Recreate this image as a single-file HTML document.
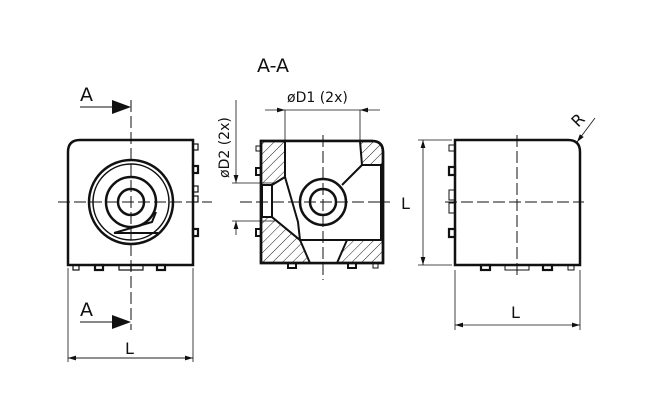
<!DOCTYPE html>
<html><head><style>body{margin:0;background:#fff}svg{display:block}text{font-family:"DejaVu Sans","Liberation Sans",sans-serif;fill:#111}</style></head>
<body>
<svg width="650" height="417" viewBox="0 0 650 417" xmlns="http://www.w3.org/2000/svg">
<defs>
<pattern id="h" width="7" height="7" patternUnits="userSpaceOnUse" patternTransform="rotate(45)"><line x1="0" y1="0" x2="0" y2="7" stroke="#222" stroke-width="1"/></pattern>
<marker id="ar" markerWidth="10" markerHeight="6" refX="10" refY="3" orient="auto"><path d="M0,0L10,3L0,6z" fill="#111"/></marker>
</defs>
<g stroke="#111" fill="none">
<!-- LEFT VIEW -->
<path d="M68,265V152Q68,140 80,140H193V265Z" stroke-width="2.5"/>
<circle cx="131" cy="202" r="42" stroke-width="2.5"/>
<circle cx="131" cy="202" r="38" stroke-width="1.5"/>
<circle cx="131" cy="202" r="25" stroke-width="2.5"/>
<circle cx="131" cy="202" r="13" stroke-width="2.5"/>
<path d="M114,233L152,222L156,212M114,233L158,233" stroke-width="2"/>
<g stroke-width="1.2"><rect x="193" y="144" width="5" height="6"/><rect x="193" y="186" width="5" height="6"/><rect x="193" y="196" width="5" height="6"/><rect x="73" y="265" width="6" height="5"/><rect x="119" y="265" width="12" height="5"/><rect x="131" y="265" width="12" height="5"/></g>
<g stroke-width="2.2"><rect x="193" y="166" width="5" height="7"/><rect x="193" y="229" width="5" height="7"/><rect x="95" y="265" width="8" height="5"/><rect x="157" y="265" width="8" height="5"/></g>
<g stroke-width="1" stroke-dasharray="12,4"><line x1="131" y1="100" x2="131" y2="330"/><line x1="58" y1="202" x2="212" y2="202"/></g>
<line x1="80" y1="107" x2="115" y2="107" stroke-width="1"/>
<path d="M112,100L131,107L112,114Z" fill="#111" stroke="none"/>
<line x1="80" y1="322" x2="115" y2="322" stroke-width="1"/>
<path d="M112,315L131,322L112,329Z" fill="#111" stroke="none"/>
<g stroke-width="0.8"><line x1="68" y1="268" x2="68" y2="362"/><line x1="193" y1="268" x2="193" y2="362"/><line x1="68" y1="358" x2="193" y2="358" marker-end="url(#ar)"/><line x1="193" y1="358" x2="68" y2="358" marker-end="url(#ar)"/></g>
<!-- MIDDLE VIEW -->
<path d="M261,263V141H372Q383,141 383,152V263Z" fill="url(#h)" stroke-width="2.5"/>
<path d="M285,141L360,141L362,165L381,165L381,240L300,240L272,217L272,185L285,177Z" fill="#fff" stroke-width="2"/>
<rect x="262" y="185" width="10" height="32" fill="#fff" stroke-width="2"/>
<path d="M272,185L285,177L298,222L300,240L272,217Z" fill="#fff" stroke-width="2"/>
<path d="M362,165L342,185" stroke-width="2"/>
<path d="M300,240L310,263H337L347,240" fill="#fff" stroke-width="2"/>
<path d="M300,240L347,240" stroke-width="2"/>
<circle cx="323" cy="202" r="23" fill="#fff" stroke-width="2.5"/>
<circle cx="323" cy="202" r="13" stroke-width="2.5"/>
<path d="M261,263V141H372Q383,141 383,152V263Z" stroke-width="2.5"/>
<g stroke-width="2"><rect x="256" y="168" width="5" height="7"/><rect x="256" y="229" width="5" height="7"/><rect x="288" y="263" width="8" height="5"/><rect x="348" y="263" width="8" height="5"/></g>
<g stroke-width="1"><rect x="256" y="146" width="5" height="5"/><rect x="373" y="263" width="5" height="5"/></g>
<g stroke-width="1" stroke-dasharray="12,4"><line x1="323" y1="135" x2="323" y2="280"/><line x1="240" y1="202" x2="390" y2="202"/></g>
<g stroke-width="0.8"><line x1="285" y1="110" x2="285" y2="141"/><line x1="360" y1="110" x2="360" y2="141"/><line x1="265" y1="110" x2="285" y2="110" marker-end="url(#ar)"/><line x1="380" y1="110" x2="360" y2="110" marker-end="url(#ar)"/><line x1="285" y1="110" x2="360" y2="110"/>
<line x1="232" y1="183" x2="275" y2="183"/><line x1="232" y1="221" x2="275" y2="221"/><line x1="236" y1="100" x2="236" y2="183" marker-end="url(#ar)"/><line x1="236" y1="235" x2="236" y2="221" marker-end="url(#ar)"/></g>
<!-- RIGHT VIEW -->
<path d="M455,140H568Q580,140 580,152V265H455Z" stroke-width="2.5"/>
<g stroke-width="2.2"><rect x="449" y="167" width="6" height="8"/><rect x="449" y="229" width="6" height="8"/><rect x="481" y="265" width="9" height="5"/><rect x="543" y="265" width="9" height="5"/></g>
<g stroke-width="1"><rect x="449" y="145" width="6" height="6"/><rect x="449" y="190" width="6" height="10"/><rect x="449" y="203" width="6" height="10"/><rect x="505" y="265" width="12" height="5"/><rect x="517" y="265" width="12" height="5"/><rect x="568" y="265" width="6" height="5"/></g>
<g stroke-width="1" stroke-dasharray="12,4"><line x1="517" y1="135" x2="517" y2="278"/><line x1="445" y1="202" x2="584" y2="202"/></g>
<g stroke-width="0.8"><line x1="418" y1="140" x2="452" y2="140"/><line x1="418" y1="265" x2="452" y2="265"/><line x1="423" y1="202" x2="423" y2="140" marker-end="url(#ar)"/><line x1="423" y1="202" x2="423" y2="265" marker-end="url(#ar)"/>
<line x1="455" y1="270" x2="455" y2="330"/><line x1="580" y1="270" x2="580" y2="330"/><line x1="517" y1="325" x2="455" y2="325" marker-end="url(#ar)"/><line x1="517" y1="325" x2="580" y2="325" marker-end="url(#ar)"/>
<line x1="595" y1="118" x2="577" y2="142" marker-end="url(#ar)"/></g>
</g>
<text x="80" y="101" font-size="19">A</text>
<text x="80" y="316" font-size="19">A</text>
<text x="125" y="354" font-size="16">L</text>
<text x="257" y="72" font-size="19">A-A</text>
<text x="287" y="102" font-size="14">øD1 (2x)</text>
<text transform="translate(229,178) rotate(-90)" font-size="14">øD2 (2x)</text>
<text x="401" y="209" font-size="16">L</text>
<text x="511" y="318" font-size="16">L</text>
<text transform="translate(578,128) rotate(-45)" font-size="16">R</text>
</svg>
</body></html>
